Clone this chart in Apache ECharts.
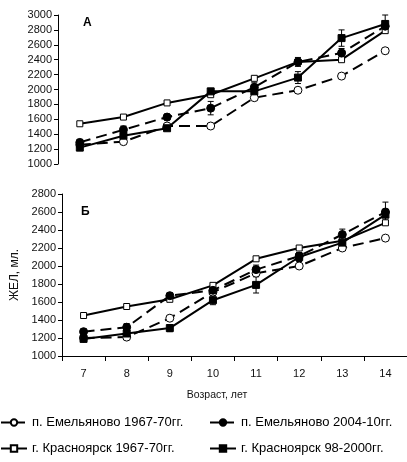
<!DOCTYPE html>
<html>
<head>
<meta charset="utf-8">
<script src="https://cdn.jsdelivr.net/npm/echarts@6/dist/echarts.min.js"></script>
<style>
  html, body { margin: 0; padding: 0; background: #fff; }
  #chart { width: 407px; height: 462px; }
</style>
</head>
<body>
<div id="chart"></div>
<script>
// Age groups (years)
const ages = ['7', '8', '9', '10', '11', '12', '13', '14'];

// Series names
const nameEmel1967 = 'п. Емельяново 1967-70гг.';
const nameEmel2004 = 'п. Емельяново 2004-10гг.';
const nameKras1967 = 'г. Красноярск 1967-70гг.';
const nameKras98 = 'г. Красноярск 98-2000гг.';

// Panel А: vital capacity, ml
const aEmel1967 = [1260, 1300, 1510, 1510, 1890, 1990, 2180, 2520];
const aEmel2004 = [1290, 1460, 1630, 1750, 2030, 2370, 2490, 2850];
const aKras1967 = [1540, 1630, 1820, 1930, 2150, 2370, 2400, 2790];
const aKras98   = [1220, 1380, 1480, 1975, 1975, 2160, 2690, 2880];
const aEmel2004Err = [40, 50, 40, 90, 60, 60, 60, 70];
const aKras98Err   = [40, 40, 30, 40, 60, 80, 110, 120];

// Panel Б: vital capacity, ml
const bEmel1967 = [1200, 1210, 1420, 1710, 1920, 2000, 2200, 2310];
const bEmel2004 = [1270, 1320, 1670, 1730, 1960, 2110, 2350, 2600];
const bKras1967 = [1450, 1550, 1630, 1785, 2080, 2200, 2280, 2480];
const bKras98   = [1190, 1250, 1310, 1620, 1790, 2100, 2260, 2570];
const bEmel2004Err = [30, 40, 30, 50, 50, 40, 60, 110];
const bKras98Err   = [30, 30, 40, 50, 90, 50, 50, 60];

// Axis ranges
const aMin = 1000, aMax = 3000;
const bMin = 1000, bMax = 2800;
const yStep = 200;

const FONT = 'Liberation Sans, Arial, sans-serif';

const styles = {
  emel1967: { symbol: 'circle', symbolSize: 8, fill: '#fff', dashed: true },
  emel2004: { symbol: 'circle', symbolSize: 8, fill: '#000', dashed: true },
  kras1967: { symbol: 'rect', symbolSize: 6, fill: '#fff', dashed: false },
  kras98:   { symbol: 'rect', symbolSize: 7, fill: '#000', dashed: false }
};

function lineSeries(name, data, st, gi) {
  return {
    type: 'line',
    name: name,
    xAxisIndex: gi,
    yAxisIndex: gi,
    data: data,
    symbol: st.symbol,
    symbolSize: st.symbolSize,
    showAllSymbol: true,
    lineStyle: { color: '#000', width: 2, type: st.dashed ? [11, 6] : 'solid' },
    itemStyle: { color: st.fill, borderColor: '#000', borderWidth: 1 },
    emphasis: { disabled: true },
    z: 3
  };
}

function errorSeries(means, errs, gi) {
  return {
    type: 'custom',
    xAxisIndex: gi,
    yAxisIndex: gi,
    silent: true,
    z: 2,
    encode: { x: 0, y: 1 },
    data: means.map((m, i) => [i, m, errs[i]]),
    renderItem: function (params, api) {
      const i = api.value(0), m = api.value(1), e = api.value(2);
      const top = api.coord([i, m + e]);
      const bot = api.coord([i, m - e]);
      const w = 3;
      const st = { stroke: '#000', lineWidth: 1 };
      return {
        type: 'group',
        children: [
          { type: 'line', shape: { x1: top[0], y1: top[1], x2: bot[0], y2: bot[1] }, style: st },
          { type: 'line', shape: { x1: top[0] - w, y1: top[1], x2: top[0] + w, y2: top[1] }, style: st },
          { type: 'line', shape: { x1: bot[0] - w, y1: bot[1], x2: bot[0] + w, y2: bot[1] }, style: st }
        ]
      };
    }
  };
}

const yAxisCommon = {
  type: 'value',
  interval: yStep,
  axisLine: { show: true, lineStyle: { color: '#000', width: 1 } },
  axisTick: { show: true, length: 4, lineStyle: { color: '#000' } },
  axisLabel: { color: '#111', fontSize: 11, fontFamily: FONT, margin: 6, formatter: v => String(v) },
  splitLine: { show: false }
};

// One legend entry per box so the two columns line up exactly
function legendItem(name, left, top, dashed) {
  return {
    left: left,
    top: top,
    padding: 0,
    itemWidth: 26,
    itemHeight: 8,
    selectedMode: false,
    data: [name],
    lineStyle: { width: 2, type: dashed ? [9, 8, 7, 10] : 'solid' },
    textStyle: { color: '#000', fontSize: 13, fontFamily: FONT }
  };
}

const chart = echarts.init(document.getElementById('chart'), null, { renderer: 'canvas' });

chart.setOption({
  animation: false,
  backgroundColor: '#fff',
  grid: [
    { left: 58, top: 15, width: 353, height: 149 },
    { left: 62, top: 194, width: 347, height: 162 }
  ],
  xAxis: [
    { type: 'category', gridIndex: 0, data: ages, show: false },
    {
      type: 'category', gridIndex: 1, data: ages,
      axisLine: { lineStyle: { color: '#000', width: 1 } },
      axisTick: { show: true, length: 5, lineStyle: { color: '#000' } },
      axisLabel: { color: '#111', fontSize: 11, fontFamily: FONT, margin: 12 }
    }
  ],
  yAxis: [
    Object.assign({}, yAxisCommon, { gridIndex: 0, min: aMin, max: aMax }),
    Object.assign({}, yAxisCommon, {
      gridIndex: 1, min: bMin, max: bMax,
      name: 'ЖЕЛ, мл.',
      nameLocation: 'middle',
      nameGap: 40,
      nameTextStyle: { color: '#111', fontSize: 12, fontFamily: FONT }
    })
  ],
  legend: [
    legendItem(nameEmel1967, 0, 416, true),
    legendItem(nameEmel2004, 209, 416, true),
    legendItem(nameKras1967, 0, 442, false),
    legendItem(nameKras98, 209, 442, false)
  ],
  graphic: [
    { type: 'text', left: 83, top: 17, style: { text: 'А', font: 'bold 12px ' + FONT, fill: '#000' } },
    { type: 'text', left: 81, top: 206, style: { text: 'Б', font: 'bold 12px ' + FONT, fill: '#000' } },
    { type: 'text', x: 217, y: 395, style: { text: 'Возраст, лет', font: '10.5px ' + FONT, fill: '#111', align: 'center', verticalAlign: 'middle' } }
  ],
  series: [
    errorSeries(aEmel2004, aEmel2004Err, 0),
    errorSeries(aKras98, aKras98Err, 0),
    lineSeries(nameEmel1967, aEmel1967, styles.emel1967, 0),
    lineSeries(nameKras1967, aKras1967, styles.kras1967, 0),
    lineSeries(nameEmel2004, aEmel2004, styles.emel2004, 0),
    lineSeries(nameKras98, aKras98, styles.kras98, 0),
    errorSeries(bEmel2004, bEmel2004Err, 1),
    errorSeries(bKras98, bKras98Err, 1),
    lineSeries(nameEmel1967, bEmel1967, styles.emel1967, 1),
    lineSeries(nameKras1967, bKras1967, styles.kras1967, 1),
    lineSeries(nameEmel2004, bEmel2004, styles.emel2004, 1),
    lineSeries(nameKras98, bKras98, styles.kras98, 1)
  ]
});
</script>
</body>
</html>
